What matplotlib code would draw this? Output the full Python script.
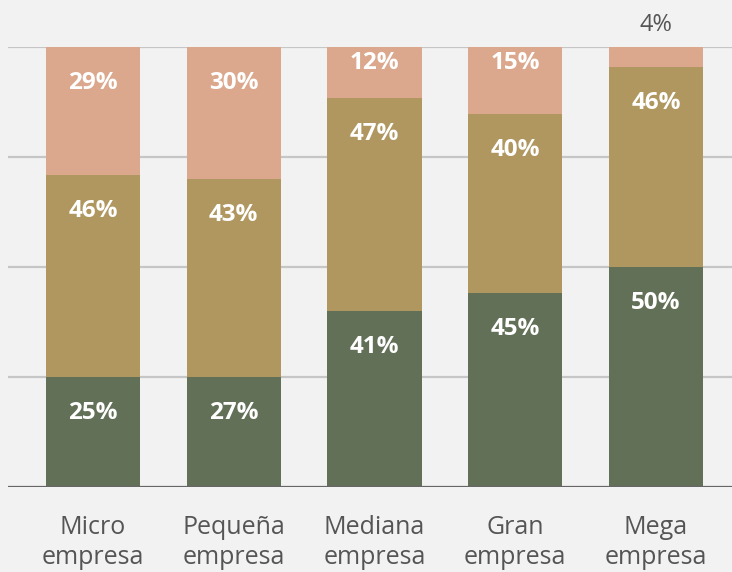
import matplotlib
matplotlib.use("Agg")
import matplotlib.pyplot as plt
import numpy as np

categories = ["Micro\nempresa", "Pequeña\nempresa", "Mediana\nempresa", "Gran\nempresa", "Mega\nempresa"]
# segment heights as drawn (percent)
bottom_vals = [25, 25, 40, 44, 50]
middle_vals = [46, 45, 48.4, 40.8, 45.5]
top_vals = [29, 30, 11.6, 15.2, 4.5]
# printed labels
bottom_labels = ["25%", "27%", "41%", "45%", "50%"]
middle_labels = ["46%", "43%", "47%", "40%", "46%"]
top_labels = ["29%", "30%", "12%", "15%", "4%"]

col_green = "#627058"
col_tan = "#b09760"
col_pink = "#dba88d"
bg = "#f2f2f2"

FONT = ["Open Sans", "DejaVu Sans"]

fig = plt.figure(figsize=(7.32, 5.72), dpi=100, facecolor=bg)
ax = fig.add_axes([8/732, (572-487)/572, 724/732, 440/572], facecolor=bg)

x = np.arange(len(categories))
w = 0.668
b = np.array(bottom_vals, float)
m = np.array(middle_vals, float)
t = np.array(top_vals, float)

ax.bar(x, b, w, color=col_green, zorder=3)
ax.bar(x, m, w, bottom=b, color=col_tan, zorder=3)
ax.bar(x, t, w, bottom=b + m, color=col_pink, zorder=3)

ax.set_xlim(-0.604, 4.54)
ax.set_ylim(0, 100)

for yv in [25, 50, 75, 100]:
    ax.axhline(yv, color="#c6c6c6", lw=1.6, zorder=1)
ax.axhline(0, color="#666666", lw=1.6, zorder=4)

def lab(xi, top, seg, txt):
    off = 8.2 if seg >= 20 else 3.6
    ax.text(xi, top - off, txt, ha="center", va="center", color="white",
            fontsize=17.5, fontweight="bold", family=FONT, zorder=5)

for i in range(len(categories)):
    lab(x[i], b[i], b[i], bottom_labels[i])
    lab(x[i], b[i] + m[i], m[i], middle_labels[i])
    if t[i] >= 10:
        lab(x[i], 100, t[i], top_labels[i])
    else:
        ax.text(x[i], 100 + 5.1, top_labels[i], ha="center", va="center",
                color="#555555", fontsize=17, family=FONT, clip_on=False)

ax.set_xticks(x)
ax.set_xticklabels(categories, fontsize=18, color="#555555", family=FONT,
                   linespacing=1.28)
ax.tick_params(axis="x", length=0, pad=20)
ax.set_yticks([])
for s in ax.spines.values():
    s.set_visible(False)

fig.savefig("out.png", dpi=100, facecolor=bg)
